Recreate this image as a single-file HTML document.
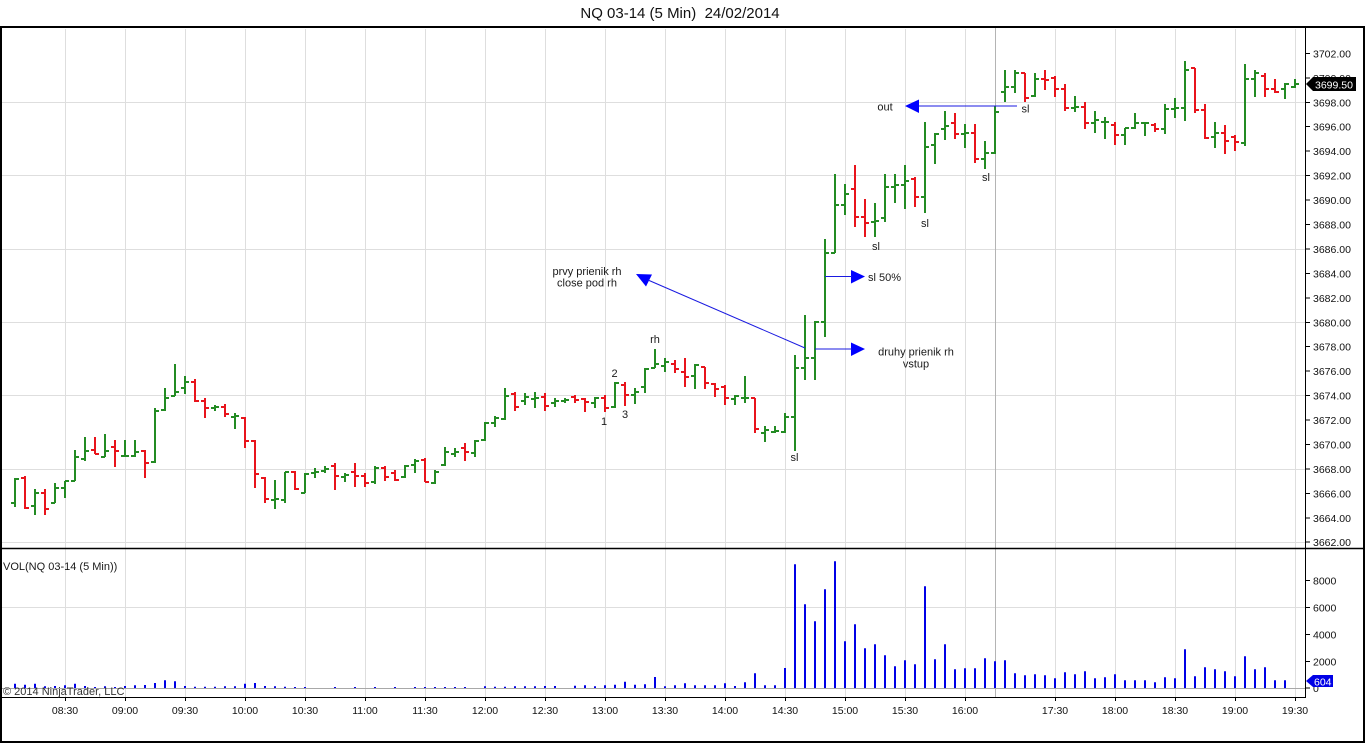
<!DOCTYPE html>
<html><head><meta charset="utf-8"><style>
html,body{margin:0;padding:0;background:#fff;}
svg{display:block;font-family:"Liberation Sans",Arial,sans-serif;}
</style></head><body>
<svg width="1366" height="743" viewBox="0 0 1366 743" xmlns="http://www.w3.org/2000/svg">
<rect x="0" y="0" width="1366" height="743" fill="#fff"/>
<text x="680" y="18" font-size="15" text-anchor="middle" fill="#111">NQ 03-14 (5 Min)&#160;&#160;24/02/2014</text>

<!-- grid -->
<g stroke="#dedede" stroke-width="1">
<path d="M65.5 29V697M125.5 29V697M185.5 29V697M245.5 29V697M305.5 29V697M365.5 29V697M425.5 29V697M485.5 29V697M545.5 29V697M605.5 29V697M665.5 29V697M725.5 29V697M785.5 29V697M845.5 29V697M905.5 29V697M965.5 29V697M1055.5 29V697M1115.5 29V697M1175.5 29V697M1235.5 29V697M1295.5 29V697"/>
<path d="M2 102.5H1305M2 175.5H1305M2 249.5H1305M2 322.5H1305M2 395.5H1305M2 469.5H1305M2 542.5H1305M2 607.5H1305"/>
</g>
<path d="M995.5 28V697" stroke="#b4b4b4" stroke-width="1"/>
<path d="M2 688.5H1305" stroke="#a8a8a8" stroke-width="1"/>

<!-- frame -->
<rect x="1" y="27" width="1363" height="715" fill="none" stroke="#000" stroke-width="2"/>
<path d="M1 548.5H1365" stroke="#000" stroke-width="1.5"/>
<path d="M1305.5 27V697.5M1 697.5H1306" stroke="#000" stroke-width="1"/>

<!-- price bars -->
<path fill="none" stroke="#238b23" stroke-width="2" d="M15 478V507M11 503H15M15 479H19M35 489V515M31 506H35M35 493H39M55 483V503M51 503H55M55 488H59M65 481V498M61 488H65M65 481H69M75 450V481M71 481H75M75 457H79M85 437V461M81 459H85M85 451H89M105 434V457M101 457H105M105 451H109M125 440V457M121 456H125M125 456H129M135 440V457M131 456H135M135 452H139M155 408V463M151 462H155M155 411H159M165 388V411M161 410H165M165 398H169M175 364V396M171 396H175M175 392H179M185 376V394M181 388H185M185 382H189M215 405V411M211 408H215M215 407H219M235 413V429M231 417H235M235 416H239M275 480V509M271 500H275M275 499H279M285 472V503M281 500H285M285 472H289M305 473V493M301 493H305M305 474H309M315 468V478M311 473H315M315 472H319M325 466V473M321 471H325M325 469H329M345 473V482M341 477H345M345 475H349M375 466V484M371 482H375M375 468H379M405 465V478M401 477H405M405 466H409M415 459V473M411 465H415M415 461H419M435 470V484M431 483H435M435 472H439M445 447V466M441 465H445M445 452H449M455 448V457M451 454H455M455 452H459M475 440V457M471 453H475M475 441H479M485 422V441M481 440H485M485 423H489M495 416V427M491 423H495M495 418H499M505 388V420M501 419H505M505 396H509M525 393V405M521 401H525M525 397H529M535 392V408M531 399H535M535 398H539M555 398V407M551 403H555M555 401H559M565 398V403M561 401H565M565 400H569M595 397V408M591 403H595M595 398H599M615 382V408M611 407H615M615 383H619M635 388V404M631 395H635M635 392H639M645 368V393M641 387H645M645 369H649M655 349V368M651 368H655M655 364H659M665 358V372M661 366H665M665 362H669M695 364V389M691 376H695M695 365H699M735 395V405M731 399H735M735 396H739M745 376V403M741 398H745M745 398H749M765 426V442M761 433H765M765 430H769M775 426V433M771 432H775M775 431H779M785 413V433M781 432H785M785 417H789M795 355V451M791 417H795M795 368H799M805 315V380M801 368H805M805 358H809M815 321V380M811 358H815M815 322H819M825 239V337M821 322H825M825 253H829M835 174V253M831 253H835M835 205H839M845 184V215M841 205H845M845 194H849M875 203V237M871 222H875M875 221H879M885 174V222M881 218H885M885 187H889M895 174V203M891 187H895M895 185H899M905 165V209M901 185H905M905 181H909M925 122V213M921 197H925M925 147H929M935 133V164M931 145H935M935 134H939M945 111V140M941 129H945M945 126H949M965 124V148M961 134H965M965 133H969M985 141V169M981 159H985M985 153H989M995 106V154M991 153H995M995 112H999M1005 70V102M1001 92H1005M1005 87H1009M1015 70V93M1011 87H1015M1015 73H1019M1035 73V97M1031 96H1035M1035 79H1039M1075 96V112M1071 108H1075M1075 107H1079M1095 111V133M1091 123H1095M1095 120H1099M1105 117V139M1101 122H1105M1105 122H1109M1125 128V145M1121 135H1125M1125 128H1129M1135 113V129M1131 128H1135M1135 123H1139M1145 122V136M1141 123H1145M1145 123H1149M1165 104V134M1161 129H1165M1165 109H1169M1175 98V118M1171 109H1175M1175 108H1179M1185 61V121M1181 108H1185M1185 70H1189M1215 122V148M1211 137H1215M1215 133H1219M1245 64V146M1241 143H1245M1245 79H1249M1255 70V97M1251 79H1255M1255 73H1259M1285 83V99M1281 89H1285M1285 84H1289M1295 79V88M1291 87H1295M1295 84H1299"/>
<path fill="none" stroke="#e8141c" stroke-width="2" d="M25 476V509M21 478H25M25 508H29M45 489V515M41 493H45M45 509H49M95 437V454M91 450H95M95 454H99M115 440V467M111 447H115M115 451H119M145 450V478M141 451H145M145 463H149M195 379V402M191 382H195M195 401H199M205 398V418M201 401H205M205 408H209M225 404V417M221 407H225M225 414H229M245 417V448M241 418H245M245 441H249M255 440V488M251 441H255M255 474H259M265 477V503M261 478H265M265 499H269M295 471V490M291 472H295M295 489H299M335 463V490M331 466H335M335 476H339M355 463V487M351 472H355M355 476H359M365 473V487M361 476H365M365 483H369M385 466V481M381 468H385M385 477H389M395 470V481M391 473H395M395 480H399M425 458V482M421 460H425M425 482H429M465 443V461M461 448H465M465 452H469M515 392V411M511 394H515M515 407H519M545 393V411M541 397H545M545 406H549M575 395V403M571 397H575M575 400H579M585 398V412M581 399H585M585 402H589M605 395V412M601 398H605M605 408H609M625 382V406M621 385H625M625 395H629M675 360V373M671 364H675M675 369H679M685 358V387M681 372H685M685 377H689M705 367V389M701 367H705M705 383H709M715 383V397M711 384H715M715 389H719M725 385V405M721 387H725M725 398H729M755 398V433M751 398H755M755 429H759M855 165V227M851 189H855M855 217H859M865 199V237M861 217H865M865 223H869M915 177V207M911 179H915M915 197H919M955 113V139M951 123H955M955 134H959M975 124V163M971 133H975M975 159H979M1025 73V102M1021 73H1025M1025 98H1029M1045 70V90M1041 79H1045M1045 80H1049M1055 76V97M1051 78H1055M1055 89H1059M1065 84V111M1061 89H1065M1065 108H1069M1085 102V129M1081 107H1085M1085 123H1089M1115 122V145M1111 125H1115M1115 135H1119M1155 123V132M1151 125H1155M1155 129H1159M1195 68V113M1191 68H1195M1195 110H1199M1205 104V139M1201 110H1205M1205 138H1209M1225 125V154M1221 133H1225M1225 141H1229M1235 135V151M1231 137H1235M1235 142H1239M1265 73V97M1261 76H1265M1265 89H1269M1275 79V93M1271 89H1275M1275 92H1279"/>

<!-- volume bars -->
<path fill="none" stroke="#0000e6" stroke-width="2" d="M15 688v-4.3M25 688v-3.3M35 688v-4.3M45 688v-1.7M55 688v-2M65 688v-2.7M75 688v-4.3M85 688v-2M95 688v-1M105 688v-1.7M115 688v-1M125 688v-2M135 688v-2.7M145 688v-3M155 688v-5M165 688v-7.7M175 688v-6.7M185 688v-2M195 688v-1.3M205 688v-1.3M215 688v-1.3M225 688v-1.7M235 688v-1.7M245 688v-4.3M255 688v-5M265 688v-2M275 688v-1.7M285 688v-1.3M295 688v-1M305 688v-1M335 688v-1M355 688v-1M375 688v-1M395 688v-1M415 688v-1M425 688v-1M435 688v-1M445 688v-1M455 688v-1M465 688v-1M485 688v-1.7M495 688v-1.3M505 688v-1.3M515 688v-1.7M525 688v-1.7M535 688v-1.7M545 688v-2M555 688v-2M575 688v-2.3M585 688v-2.7M595 688v-1.7M605 688v-2.7M615 688v-3.3M625 688v-6.3M635 688v-3.3M645 688v-3.7M655 688v-11M665 688v-1.7M675 688v-2.7M685 688v-4.7M695 688v-2.7M705 688v-2.7M715 688v-2.7M725 688v-4.7M735 688v-2M745 688v-5.7M755 688v-14.7M765 688v-2.7M775 688v-2.7M785 688v-20M795 688v-123.7M805 688v-83.7M815 688v-66.7M825 688v-98.7M835 688v-126.7M845 688v-46.7M855 688v-63.7M865 688v-39.7M875 688v-43.7M885 688v-32.7M895 688v-21.7M905 688v-27.7M915 688v-23.7M925 688v-101.7M935 688v-28.7M945 688v-43.7M955 688v-18.7M965 688v-19.7M975 688v-19.7M985 688v-29.7M995 688v-26.7M1005 688v-27.7M1015 688v-14.7M1025 688v-12.7M1035 688v-13.7M1045 688v-12.7M1055 688v-9.7M1065 688v-15.7M1075 688v-13.7M1085 688v-16.7M1095 688v-9.7M1105 688v-10.7M1115 688v-13.7M1125 688v-7.7M1135 688v-7.7M1145 688v-7.7M1155 688v-5.7M1165 688v-10.7M1175 688v-9.7M1185 688v-38.7M1195 688v-11.7M1205 688v-20.7M1215 688v-18.7M1225 688v-16.7M1235 688v-11.7M1245 688v-31.7M1255 688v-18.7M1265 688v-20.7M1275 688v-7.7M1285 688v-7.7"/>

<!-- annotations -->
<g fill="#0000ff" stroke="none">
<polygon points="636,274 652,274.5 646,286.5"/>
<polygon points="851,270 851,283.5 865,276.5"/>
<polygon points="851,342.5 851,356 865,349"/>
<polygon points="905,106 919,99.5 919,113"/>
</g>
<g stroke="#1a1ae0" stroke-width="1" fill="none">
<path d="M805 348L648 280"/>
<path d="M825 276.5H852M815 349H852M919 106H1017"/>
</g>
<g font-size="11" fill="#1a1a1a">
<text x="587" y="275" text-anchor="middle">prvy prienik rh</text>
<text x="587" y="286.5" text-anchor="middle">close pod rh</text>
<text x="868" y="281">sl 50%</text>
<text x="916" y="355.5" text-anchor="middle">druhy prienik rh</text>
<text x="916" y="367.5" text-anchor="middle">vstup</text>
<text x="885" y="110.5" text-anchor="middle">out</text>
<text x="1025.5" y="112.5" text-anchor="middle">sl</text>
<text x="986" y="181" text-anchor="middle">sl</text>
<text x="925" y="227" text-anchor="middle">sl</text>
<text x="876" y="250" text-anchor="middle">sl</text>
<text x="794.5" y="461" text-anchor="middle">sl</text>
<text x="604" y="425" text-anchor="middle">1</text>
<text x="614.5" y="377" text-anchor="middle">2</text>
<text x="625" y="418" text-anchor="middle">3</text>
<text x="655" y="343" text-anchor="middle">rh</text>
<text x="3" y="570">VOL(NQ 03-14 (5 Min))</text>
<text x="3" y="695" fill="#333">© 2014 NinjaTrader, LLC</text>
</g>

<!-- price axis -->
<path stroke="#000" stroke-width="1" d="M1305 53.5H1310M1305 78H1310M1305 102.5H1310M1305 126.5H1310M1305 151H1310M1305 175.5H1310M1305 200H1310M1305 224.5H1310M1305 249H1310M1305 273.5H1310M1305 298H1310M1305 322.5H1310M1305 346.5H1310M1305 371H1310M1305 395.5H1310M1305 420H1310M1305 444.5H1310M1305 469H1310M1305 493.5H1310M1305 518H1310M1305 542H1310M1305 580.5H1310M1305 607.5H1310M1305 634.5H1310M1305 661.5H1310M1305 688H1310M65.5 697V701M125.5 697V701M185.5 697V701M245.5 697V701M305.5 697V701M365.5 697V701M425.5 697V701M485.5 697V701M545.5 697V701M605.5 697V701M665.5 697V701M725.5 697V701M785.5 697V701M845.5 697V701M905.5 697V701M965.5 697V701M1055.5 697V701M1115.5 697V701M1175.5 697V701M1235.5 697V701M1295.5 697V701"/>
<g font-size="10.5" fill="#111">
<text x="1313" y="57.5">3702.00</text>
<text x="1313" y="82">3700.00</text>
<text x="1313" y="106.5">3698.00</text>
<text x="1313" y="130.5">3696.00</text>
<text x="1313" y="155">3694.00</text>
<text x="1313" y="179.5">3692.00</text>
<text x="1313" y="204">3690.00</text>
<text x="1313" y="228.5">3688.00</text>
<text x="1313" y="253">3686.00</text>
<text x="1313" y="277.5">3684.00</text>
<text x="1313" y="302">3682.00</text>
<text x="1313" y="326.5">3680.00</text>
<text x="1313" y="350.5">3678.00</text>
<text x="1313" y="375">3676.00</text>
<text x="1313" y="399.5">3674.00</text>
<text x="1313" y="424">3672.00</text>
<text x="1313" y="448.5">3670.00</text>
<text x="1313" y="473">3668.00</text>
<text x="1313" y="497.5">3666.00</text>
<text x="1313" y="522">3664.00</text>
<text x="1313" y="546">3662.00</text>
<text x="1313" y="584.5">8000</text>
<text x="1313" y="611.5">6000</text>
<text x="1313" y="638.5">4000</text>
<text x="1313" y="665.5">2000</text>
<text x="1313" y="692">0</text>
</g>
<g font-size="10.5" fill="#111" text-anchor="middle">
<text x="65" y="714">08:30</text>
<text x="125" y="714">09:00</text>
<text x="185" y="714">09:30</text>
<text x="245" y="714">10:00</text>
<text x="305" y="714">10:30</text>
<text x="365" y="714">11:00</text>
<text x="425" y="714">11:30</text>
<text x="485" y="714">12:00</text>
<text x="545" y="714">12:30</text>
<text x="605" y="714">13:00</text>
<text x="665" y="714">13:30</text>
<text x="725" y="714">14:00</text>
<text x="785" y="714">14:30</text>
<text x="845" y="714">15:00</text>
<text x="905" y="714">15:30</text>
<text x="965" y="714">16:00</text>
<text x="1055" y="714">17:30</text>
<text x="1115" y="714">18:00</text>
<text x="1175" y="714">18:30</text>
<text x="1235" y="714">19:00</text>
<text x="1295" y="714">19:30</text>
</g>

<!-- value tags -->
<polygon points="1306,84 1313,77 1356,77 1356,91 1313,91" fill="#000"/>
<text x="1315" y="88.5" font-size="10.5" fill="#fff">3699.50</text>
<polygon points="1306,681 1313,675 1333,675 1333,687 1313,687" fill="#0000e6"/>
<text x="1314" y="685.5" font-size="10.5" fill="#fff">604</text>
</svg>
</body></html>
